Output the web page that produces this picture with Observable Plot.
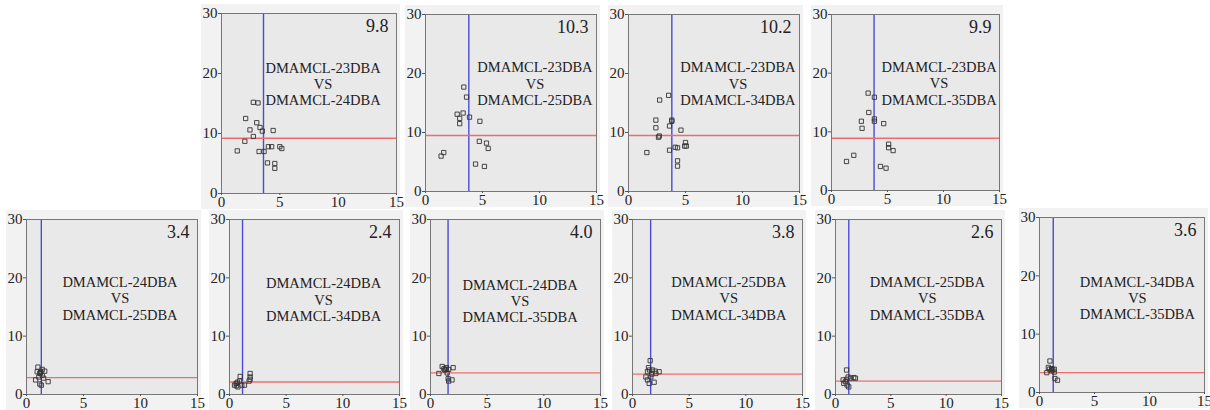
<!DOCTYPE html>
<html>
<head>
<meta charset="utf-8">
<script src="https://cdn.jsdelivr.net/npm/d3@7"></script>
<script src="https://cdn.jsdelivr.net/npm/@observablehq/plot@0.6"></script>
<style>
  html, body { margin: 0; padding: 0; background: #ffffff; }
  #wrap { position: relative; width: 1210px; height: 410px; overflow: hidden; background: #ffffff; }
  .panel { position: absolute; }
</style>
</head>
<body>
<div id="wrap"></div>
<script>
// ---- data ----
const xTicks = [0, 5, 10, 15];
const yTicks = [0, 10, 20, 30];
const pairA = ["DMAMCL-23DBA", "DMAMCL-23DBA", "DMAMCL-23DBA", "DMAMCL-23DBA",
               "DMAMCL-24DBA", "DMAMCL-24DBA", "DMAMCL-24DBA", "DMAMCL-25DBA", "DMAMCL-25DBA", "DMAMCL-34DBA"];
const pairB = ["DMAMCL-24DBA", "DMAMCL-25DBA", "DMAMCL-34DBA", "DMAMCL-35DBA",
               "DMAMCL-25DBA", "DMAMCL-34DBA", "DMAMCL-35DBA", "DMAMCL-34DBA", "DMAMCL-35DBA", "DMAMCL-35DBA"];
const panelValues = [9.8, 10.3, 10.2, 9.9, 3.4, 2.4, 4.0, 3.8, 2.6, 3.6];
const vLines = [3.6, 3.8, 3.8, 3.8, 1.3, 1.15, 1.55, 1.6, 1.2, 1.25];
const hLines = [9.2, 9.5, 9.5, 8.9, 2.9, 2.15, 3.7, 3.5, 2.3, 3.4];
// label anchor (x, y of the middle "VS" line) in data units
const labelX = [8.7, 9.6, 9.6, 9.6, 8.2, 8.3, 7.9, 8.5, 8.3, 8.9];
const labelY = [18.3, 18.3, 18.3, 18.3, 16.5, 16.3, 16.1, 16.5, 16.5, 16.2];

const pts_23_24 = [[1.35,7.1],[2.0,8.7],[2.07,12.5],[2.44,10.6],[2.73,9.5],[2.73,15.2],[3.13,15.1],
  [3.02,11.8],[3.3,11.0],[3.5,10.4],[3.22,7.0],[3.65,7.0],[3.94,5.1],[4.02,7.8],[4.3,7.8],
  [4.43,10.5],[4.57,5.0],[4.57,4.2],[5.0,7.8],[5.17,7.5]];
const pts_23_25 = [[1.37,6.0],[1.6,6.6],[2.78,13.1],[3.0,12.4],[3.0,11.5],[3.3,13.3],[3.36,17.7],
  [3.6,16.0],[3.86,12.6],[4.77,11.9],[4.72,8.5],[5.35,8.2],[5.5,7.3],[4.39,4.65],[5.17,4.25]];
const pts_23_34 = [[1.61,6.6],[2.4,12.1],[2.4,10.8],[2.63,9.2],[2.7,9.4],[2.73,15.5],[3.52,16.3],
  [3.6,11.1],[3.8,12.1],[3.8,11.9],[3.6,7.0],[4.1,7.5],[4.3,7.4],[4.6,10.4],[4.3,5.2],[4.3,4.3],
  [5.0,8.3],[4.93,7.7],[5.07,7.7]];
const pts_23_35 = [[1.34,4.95],[1.99,6.0],[2.67,11.8],[2.73,10.6],[3.27,16.6],[3.33,13.3],[3.83,15.9],
  [3.83,12.2],[3.83,11.8],[4.66,11.4],[5.1,7.9],[5.1,7.3],[5.5,6.8],[4.37,4.1],[4.87,3.8]];
const pts_24_25 = [[1.0,4.7],[0.94,3.9],[1.17,3.6],[1.38,4.3],[1.6,4.0],[0.8,2.5],[1.17,1.8],
  [1.38,3.3],[1.5,2.8],[1.9,2.2],[1.08,3.0],[1.3,1.6],[1.2,3.7],[1.25,3.9]];
const pts_24_34 = [[0.44,1.6],[0.59,1.9],[0.74,1.3],[0.88,2.3],[0.94,3.1],[1.09,1.6],[1.32,1.6],
  [0.7,2.1],[1.82,3.6],[1.82,3.0],[1.82,2.6],[1.73,2.3],[0.6,1.5]];
const pts_24_35 = [[0.74,3.6],[1.03,4.8],[1.18,4.4],[1.4,4.6],[1.6,4.3],[2.0,4.6],[1.47,3.7],
  [1.56,2.7],[1.6,2.3],[1.9,2.5],[1.26,4.2],[1.35,4.3]];
const pts_25_34 = [[1.56,5.8],[1.41,4.6],[1.32,3.9],[1.76,4.2],[2.0,4.0],[2.35,3.9],[1.18,3.0],
  [1.32,2.5],[1.47,1.9],[1.91,2.1],[1.62,3.0],[2.06,3.6],[1.5,4.2],[1.7,3.5]];
const pts_25_35 = [[1.0,4.2],[0.69,2.5],[0.9,2.2],[1.05,1.6],[1.35,2.8],[1.65,2.9],[1.8,2.8],
  [1.14,3.0],[0.75,1.9],[1.2,1.3],[1.0,2.6]];
const pts_34_35 = [[0.95,5.4],[0.66,3.4],[0.9,4.0],[1.1,4.1],[1.34,4.0],[1.1,3.7],[1.34,3.5],
  [1.4,2.4],[1.64,2.1],[0.8,4.3],[1.2,3.9]];
const panelPoints = [pts_23_24, pts_23_25, pts_23_34, pts_23_35, pts_24_25, pts_24_34, pts_24_35, pts_25_34, pts_25_35, pts_34_35];

// ---- layout (frame boxes in page pixels: left, top, right, bottom) ----
const frames = [
  [221, 13, 396, 193], [425, 14, 596, 191], [628, 14, 799, 191], [831, 14, 999, 190],
  [26, 219, 197, 394], [229, 219, 399, 394], [430, 219, 600, 394], [632, 219, 802, 394],
  [835, 219, 1001, 394], [1039, 217, 1204, 392]
];
const ml = 20, mt = 9, mr = 4, mb = 16;
const serif = "'Liberation Serif', 'Times New Roman', Times, serif";
const wrap = document.getElementById("wrap");

frames.forEach((f, i) => {
  const [l, t, r, b] = f;
  const w = (r - l) + ml + mr;
  const h = (b - t) + mt + mb;
  const chart = Plot.plot({
    width: w,
    height: h,
    marginLeft: ml, marginTop: mt, marginRight: mr, marginBottom: mb,
    style: { background: "#f2f2f2", fontFamily: serif, color: "#222", overflow: "visible" },
    x: { domain: [0, 15] },
    y: { domain: [0, 30] },
    marks: [
      Plot.frame({ fill: "#e9e9e9", stroke: "none" }),
      Plot.ruleX([vLines[i]], { stroke: "#4b4bd6", strokeWidth: 1.4 }),
      Plot.ruleY([hLines[i]], { stroke: "#f06c6c", strokeWidth: 1.4 }),
      Plot.dot(panelPoints[i], { x: d => d[0], y: d => d[1], symbol: "square", r: 2.4, stroke: "#333", strokeWidth: 0.9, fill: "none" }),
      Plot.text([pairA[i] + "\nVS\n" + pairB[i]], { x: labelX[i], y: labelY[i], text: d => d, fontSize: 14.5, fontFamily: serif, lineHeight: 1.12, textAnchor: "middle", lineAnchor: "middle", fill: "#222" }),
      Plot.text([panelValues[i]], { frameAnchor: "top-right", text: d => d.toFixed(1), dx: -8, dy: 6, fontSize: 18, fontFamily: serif, fill: "#222" }),
      Plot.frame({ stroke: "#777", strokeWidth: 1 }),
      Plot.axisX(xTicks, { tickSize: 2, tickPadding: 1, fontSize: 15, fontFamily: serif, label: null, stroke: "#555", fill: "#222" }),
      Plot.axisY(yTicks, { tickSize: 3, tickPadding: 1, fontSize: 15, fontFamily: serif, label: null, stroke: "#555", fill: "#222" })
    ]
  });
  chart.classList.add("panel");
  chart.style.left = (l - ml) + "px";
  chart.style.top = (t - mt) + "px";
  wrap.appendChild(chart);
});
</script>
</body>
</html>
